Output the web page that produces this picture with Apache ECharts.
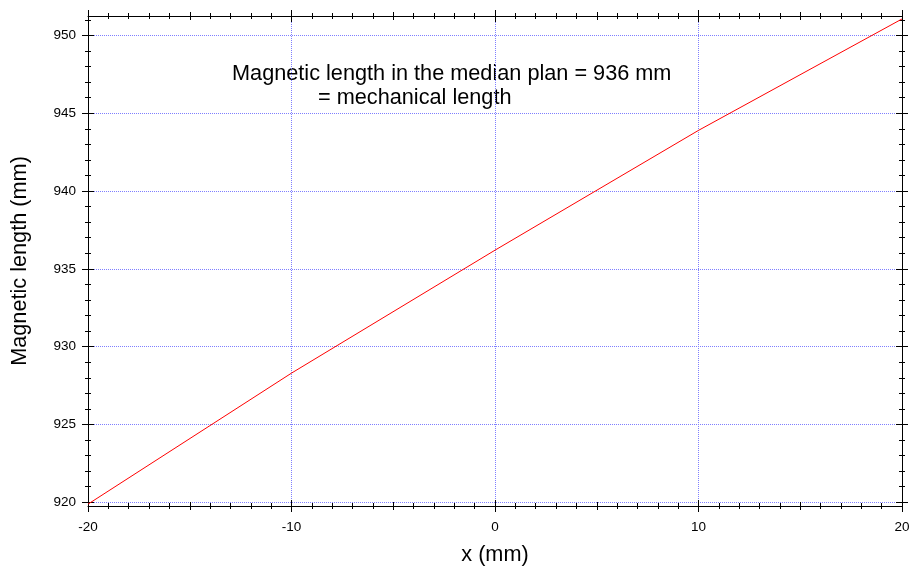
<!DOCTYPE html>
<html>
<head>
<meta charset="utf-8">
<script src="https://cdn.jsdelivr.net/npm/echarts@6/dist/echarts.min.js"></script>
<style>
  html, body { margin: 0; padding: 0; background: #fff; }
  #chart { width: 910px; height: 566px; }
</style>
</head>
<body>
<div id="chart"></div>
<script>
// Transverse position across the magnet (mm)
const xPositions = [-20, -10, 0, 10, 20];
// Magnetic length measured at each position (mm)
const magneticLength = [919.88, 928.3, 936.2, 943.9, 951.06];

// Axis ranges
const xRange = [-20, 20];
const yRange = [919.76, 951.25];

// Tick positions
const xMajorTicks = [-20, -10, 0, 10, 20];
const xMidTicks = [-15, -5, 5, 15];
const xGridLines = [-10, 0, 10];
const xMinorTicks = [];
for (let v = -20; v <= 20; v++) xMinorTicks.push(v);
const yMajorTicks = [920, 925, 930, 935, 940, 945, 950];
const yMinorTicks = [];
for (let v = 920; v <= 951; v++) yMinorTicks.push(v);

const annotationLines = ['Magnetic length in the median plan = 936 mm', '= mechanical length'];

const FONT = '"Liberation Sans", Arial, Helvetica, sans-serif';
const BLACK = '#000000';

// An axis that only draws tick marks at the given values
function tickAxis(position, range, values, len, inside) {
  return {
    type: 'value',
    position: position,
    min: range[0],
    max: range[1],
    axisLine: { show: false, onZero: false },
    axisLabel: { show: false },
    splitLine: { show: false },
    axisTick: {
      show: true,
      inside: inside,
      length: len,
      customValues: values,
      lineStyle: { color: BLACK, width: 1 }
    }
  };
}

// Invisible axis that only carries the dotted grid lines
function gridAxis(position, range, values) {
  return {
    type: 'value',
    position: position,
    min: range[0],
    max: range[1],
    axisLine: { show: false, onZero: false },
    axisLabel: { show: false },
    axisTick: { show: false, customValues: values },
    splitLine: {
      show: true,
      lineStyle: { color: '#7f7fff', width: 1, type: [1, 1] }
    }
  };
}

const xAxes = [
  {
    type: 'value',
    position: 'bottom',
    min: xRange[0],
    max: xRange[1],
    name: 'x (mm)',
    nameLocation: 'middle',
    nameGap: 38,
    nameTextStyle: { fontFamily: FONT, fontSize: 21.7, color: BLACK },
    axisLine: { show: true, onZero: false, lineStyle: { color: BLACK, width: 1 } },
    axisTick: { show: true, inside: false, length: 6, customValues: xMajorTicks, lineStyle: { color: BLACK, width: 1 } },
    axisLabel: { show: true, customValues: xMajorTicks, fontFamily: FONT, fontSize: 13.5, color: BLACK, margin: 14 },
    splitLine: { show: false }
  },
  gridAxis('bottom', xRange, xGridLines),
  tickAxis('bottom', xRange, xMajorTicks, 6, true),
  tickAxis('bottom', xRange, xMidTicks, 4, false),
  tickAxis('bottom', xRange, xMidTicks, 4, true),
  tickAxis('bottom', xRange, xMinorTicks, 3, false),
  tickAxis('bottom', xRange, xMinorTicks, 3, true),
  {
    type: 'value',
    position: 'top',
    min: xRange[0],
    max: xRange[1],
    axisLine: { show: true, onZero: false, lineStyle: { color: BLACK, width: 1 } },
    axisTick: { show: true, inside: false, length: 6, customValues: xMajorTicks, lineStyle: { color: BLACK, width: 1 } },
    axisLabel: { show: false },
    splitLine: { show: false }
  },
  tickAxis('top', xRange, xMajorTicks, 6, true),
  tickAxis('top', xRange, xMidTicks, 4, false),
  tickAxis('top', xRange, xMidTicks, 4, true),
  tickAxis('top', xRange, xMinorTicks, 3, false),
  tickAxis('top', xRange, xMinorTicks, 3, true)
];

const yAxes = [
  {
    type: 'value',
    position: 'left',
    min: yRange[0],
    max: yRange[1],
    name: 'Magnetic length (mm)',
    nameLocation: 'middle',
    nameGap: 57,
    nameTextStyle: { fontFamily: FONT, fontSize: 21.7, color: BLACK },
    axisLine: { show: true, onZero: false, lineStyle: { color: BLACK, width: 1 } },
    axisTick: { show: true, inside: false, length: 6, customValues: yMajorTicks, lineStyle: { color: BLACK, width: 1 } },
    axisLabel: { show: true, customValues: yMajorTicks, fontFamily: FONT, fontSize: 13.5, color: BLACK, margin: 12 },
    splitLine: { show: false }
  },
  gridAxis('left', yRange, yMajorTicks),
  tickAxis('left', yRange, yMajorTicks, 6, true),
  tickAxis('left', yRange, yMinorTicks, 3, false),
  tickAxis('left', yRange, yMinorTicks, 3, true),
  {
    type: 'value',
    position: 'right',
    min: yRange[0],
    max: yRange[1],
    axisLine: { show: true, onZero: false, lineStyle: { color: BLACK, width: 1 } },
    axisTick: { show: true, inside: false, length: 6, customValues: yMajorTicks, lineStyle: { color: BLACK, width: 1 } },
    axisLabel: { show: false },
    splitLine: { show: false }
  },
  tickAxis('right', yRange, yMajorTicks, 6, true),
  tickAxis('right', yRange, yMinorTicks, 3, false),
  tickAxis('right', yRange, yMinorTicks, 3, true)
];

const chart = echarts.init(document.getElementById('chart'), null, { renderer: 'canvas' });

chart.setOption({
  backgroundColor: '#ffffff',
  animation: false,
  grid: { left: 88, right: 8, top: 16, bottom: 60, containLabel: false, outerBoundsMode: 'none' },
  xAxis: xAxes,
  yAxis: yAxes,
  graphic: [
    {
      type: 'text',
      left: 232,
      top: 63,
      style: { text: annotationLines[0], font: '21.7px ' + FONT, fill: BLACK }
    },
    {
      type: 'text',
      left: 318,
      top: 87,
      style: { text: annotationLines[1], font: '21.7px ' + FONT, fill: BLACK }
    }
  ],
  series: [
    {
      type: 'line',
      xAxisIndex: 0,
      yAxisIndex: 0,
      data: xPositions.map((x, i) => [x, magneticLength[i]]),
      showSymbol: false,
      symbol: 'none',
      lineStyle: { color: '#ff0000', width: 1 },
      z: 3
    }
  ]
});
</script>
</body>
</html>
